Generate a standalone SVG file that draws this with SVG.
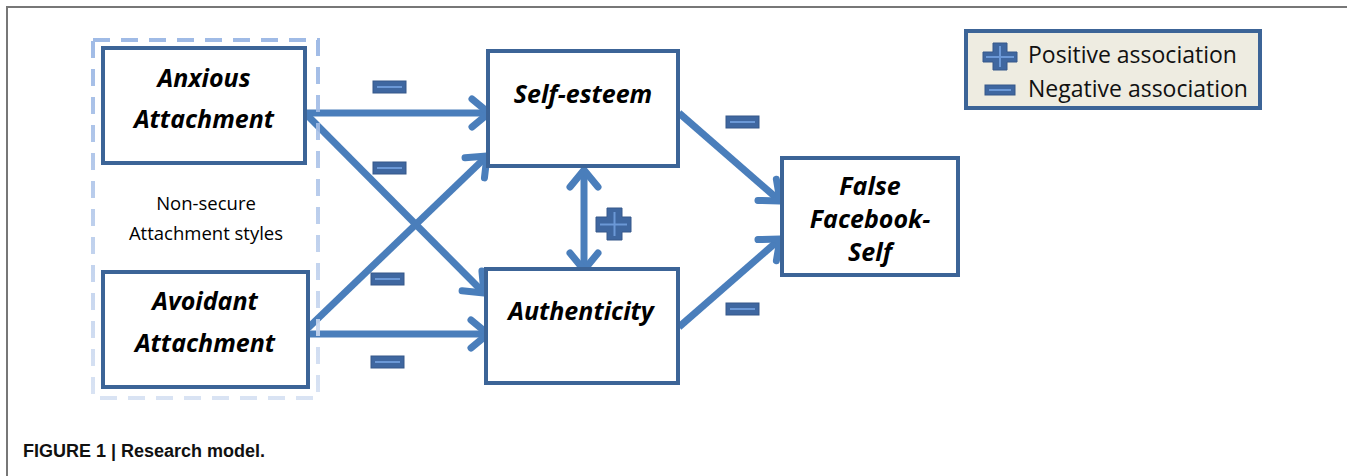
<svg xmlns="http://www.w3.org/2000/svg" width="1347" height="476" viewBox="0 0 1347 476">
<style>
.box{fill:#ffffff;stroke:#3c6497;stroke-width:4}
.lbl{font-family:"Open Sans","Liberation Sans",sans-serif;font-weight:bold;font-style:italic;font-size:25px;fill:#000;text-anchor:middle}
.note{font-family:"Open Sans","Liberation Sans",sans-serif;font-size:18.5px;fill:#000;text-anchor:middle}
.leg{font-family:"Open Sans","Liberation Sans",sans-serif;font-size:23px;fill:#111}
.conn{stroke:#4a7ebb;stroke-width:7;fill:none;marker-end:url(#arr)}
.sgn{fill:#3f67a0;stroke:#36598a;stroke-width:1}
.sgnl{stroke:#6b98d6;stroke-width:2}
</style>
<defs>
<marker id="arr" markerUnits="userSpaceOnUse" viewBox="-30 -25 40 50" refX="0" refY="0" markerWidth="40" markerHeight="50" orient="auto-start-reverse">
<path d="M-17 -14 L0 0 L-17 14" fill="none" stroke="#4a7ebb" stroke-width="7" stroke-linecap="round" stroke-linejoin="round"/>
</marker>
<linearGradient id="dg" x1="0" y1="0" x2="0" y2="1">
<stop offset="0" stop-color="#95b3e3"/>
<stop offset="1" stop-color="#d5e0f2"/>
</linearGradient>
<g id="minus"><rect class="sgn" x="0" y="0" width="33" height="12"/><line class="sgnl" x1="4" y1="6" x2="29" y2="6"/></g>
</defs>
<rect width="1347" height="476" fill="#ffffff"/>
<g id="frame" stroke="#777" stroke-width="2" fill="none">
<line x1="6" y1="7" x2="1347" y2="7"/>
<line x1="7" y1="7" x2="7" y2="476"/>
</g>
<g id="connectors">
<line class="conn" x1="305" y1="113" x2="489" y2="113"/>
<line class="conn" x1="305" y1="113" x2="484" y2="293"/>
<line class="conn" x1="308" y1="328" x2="487" y2="156"/>
<line class="conn" x1="308" y1="334" x2="488" y2="334"/>
<line class="conn" x1="584" y1="170" x2="584" y2="270" style="marker-start:url(#arr)"/>
<line class="conn" x1="679" y1="113" x2="780" y2="201"/>
<line class="conn" x1="679" y1="327" x2="780" y2="239"/>
</g>
<g id="node-anxious"><rect class="box" x="103" y="48" width="202" height="115"/>
<text class="lbl" x="204" y="87">Anxious</text><text class="lbl" x="204" y="128">Attachment</text></g>
<g id="node-avoidant"><rect class="box" x="103" y="272" width="205" height="115"/>
<text class="lbl" x="205" y="310">Avoidant</text><text class="lbl" x="205" y="352">Attachment</text></g>
<g id="node-selfesteem"><rect class="box" x="488" y="51" width="190" height="115"/>
<text class="lbl" x="583" y="103">Self-esteem</text></g>
<g id="node-authenticity"><rect class="box" x="486" y="269" width="192" height="114"/>
<text class="lbl" x="581" y="320">Authenticity</text></g>
<g id="node-false"><rect class="box" x="782" y="158" width="176" height="117"/>
<text class="lbl" x="870" y="195">False</text><text class="lbl" x="870" y="228">Facebook-</text><text class="lbl" x="870" y="261">Self</text></g>
<g id="group-nonsecure">
<rect x="93" y="40" width="225" height="358" fill="none" stroke="url(#dg)" stroke-width="4" stroke-dasharray="17 11" opacity="0.9"/>
<text class="note" x="206" y="210">Non-secure</text><text class="note" x="206" y="240">Attachment styles</text>
</g>
<g id="signs">
<use href="#minus" x="373" y="81"/>
<use href="#minus" x="373" y="162"/>
<use href="#minus" x="371" y="273"/>
<use href="#minus" x="371" y="356"/>
<use href="#minus" x="726" y="116"/>
<use href="#minus" x="726" y="303"/>
<path class="sgn" d="M607 208 H622 V217 H631 V232 H622 V240 H607 V232 H596 V217 H607 Z"/>
<path class="sgnl" d="M614.5 212 V236 M600 224.5 H627" fill="none"/>
</g>
<g id="legend">
<rect x="966" y="31" width="294" height="77" fill="#eeece1" stroke="#3c6497" stroke-width="4"/>
<path class="sgn" d="M993 43 H1007 V52 H1017 V62 H1007 V70 H993 V62 H983 V52 H993 Z"/>
<path class="sgnl" d="M1000 46 V67 M986 57 H1014" fill="none"/>
<rect class="sgn" x="985" y="85" width="30" height="10"/><line class="sgnl" x1="989" y1="90" x2="1011" y2="90"/>
<text class="leg" x="1028" y="63">Positive association</text>
<text class="leg" x="1028" y="97">Negative association</text>
</g>
<text id="caption" x="23" y="457" font-family="Liberation Sans,Arial,sans-serif" font-weight="bold" font-size="18" fill="#111">FIGURE 1 | Research model.</text>
</svg>
